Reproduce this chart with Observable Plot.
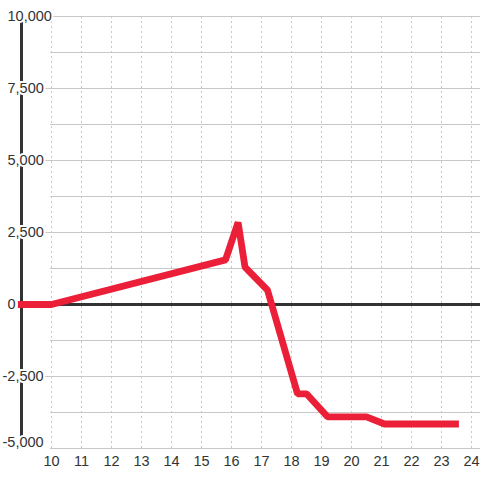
<!DOCTYPE html>
<html>
<head>
<meta charset="utf-8">
<script src="https://cdn.jsdelivr.net/npm/d3@7"></script>
<script src="https://cdn.jsdelivr.net/npm/@observablehq/plot@0.6"></script>
<style>
  html, body { margin: 0; padding: 0; background: #fff; }
  #chart svg { display: block; }
</style>
</head>
<body>
<div id="chart"></div>
<script>
// Series
const xValues = [8.88, 10, 15.8, 16.22, 16.45, 17.2, 18.2, 18.5, 19.2, 20.5, 21.1, 23.58];
const yValues = [0, 0, 1550, 2850, 1300, 500, -3100, -3100, -3900, -3900, -4150, -4150];

// Axis ticks
const xTicks = [10, 11, 12, 13, 14, 15, 16, 17, 18, 19, 20, 21, 22, 23, 24];
const yGrid = [10000, 8750, 7500, 6250, 5000, 3750, 2500, 1250, 0, -1250, -2500, -3750, -5000];
const yTickLabels = [10000, 7500, 5000, 2500, 0, -2500, -5000];
const yInnerLabeled = [7500, 5000, 2500, -2500];
const yMin = -5000;

const data = xValues.map((x, i) => ({x, y: yValues[i]}));
const fmt = v => d3.format(",")(Math.abs(v)).replace(/^/, v < 0 ? "-" : "");

const font = "'Liberation Sans', Arial, sans-serif";
const textColor = "#333";
const labelStyle = {
  frameAnchor: "left", text: fmt, textAnchor: "start",
  fill: textColor, fontSize: 14.5, stroke: "#fff", strokeWidth: 4, paintOrder: "stroke"
};

const chart = Plot.plot({
  width: 480,
  height: 480,
  marginTop: 0, marginRight: 0, marginBottom: 0, marginLeft: 0,
  x: {domain: [9, 24.3], range: [21, 480], axis: null},
  y: {domain: [-5000, 10000], range: [448, 16], axis: null},
  style: {background: "#fff", fontFamily: font},
  marks: [
    // vertical dashed grid
    Plot.ruleX(xTicks, {x: d => d, y1: 10000, y2: -5000, stroke: "#c8c8c8", strokeWidth: 1, strokeDasharray: "2,3"}),
    // horizontal grid
    Plot.ruleY(yGrid.filter(d => d !== 0), {y: d => d, x1: 9.967, x2: 24.3, stroke: "#c8c8c8", strokeWidth: 1}),
    Plot.ruleY(yInnerLabeled, {y: d => d, x1: 9.733, x2: 9.967, stroke: "#c8c8c8", strokeWidth: 1}),
    // y axis line
    Plot.ruleX([9], {x: d => d, y1: 10000, y2: -5000, stroke: "#333", strokeWidth: 3}),
    // zero line
    Plot.ruleY([0], {y: d => d, x1: 9, x2: 24.3, stroke: "#333", strokeWidth: 3}),
    // series line
    Plot.line(data, {x: "x", y: "y", stroke: "#ec1f38", strokeWidth: 6.8, strokeLinejoin: "miter", strokeLinecap: "butt"}),
    // y tick labels (positive / zero)
    Plot.text(yTickLabels.filter(d => d >= 0), {y: d => d, dx: 7, ...labelStyle}),
    // y tick labels (negative, except bottom)
    Plot.text(yTickLabels.filter(d => d < 0 && d !== yMin), {y: d => d, dx: 2, ...labelStyle}),
    // bottom y tick label, nudged up
    Plot.text(yTickLabels.filter(d => d === yMin), {y: d => d, dx: 2, dy: -6, ...labelStyle}),
    // x tick labels
    Plot.text(xTicks, {
      x: d => d, y: -5000, dy: 13, text: d => String(d), textAnchor: "middle",
      fill: textColor, fontSize: 14.5
    })
  ]
});
document.getElementById("chart").appendChild(chart);
</script>
</body>
</html>
